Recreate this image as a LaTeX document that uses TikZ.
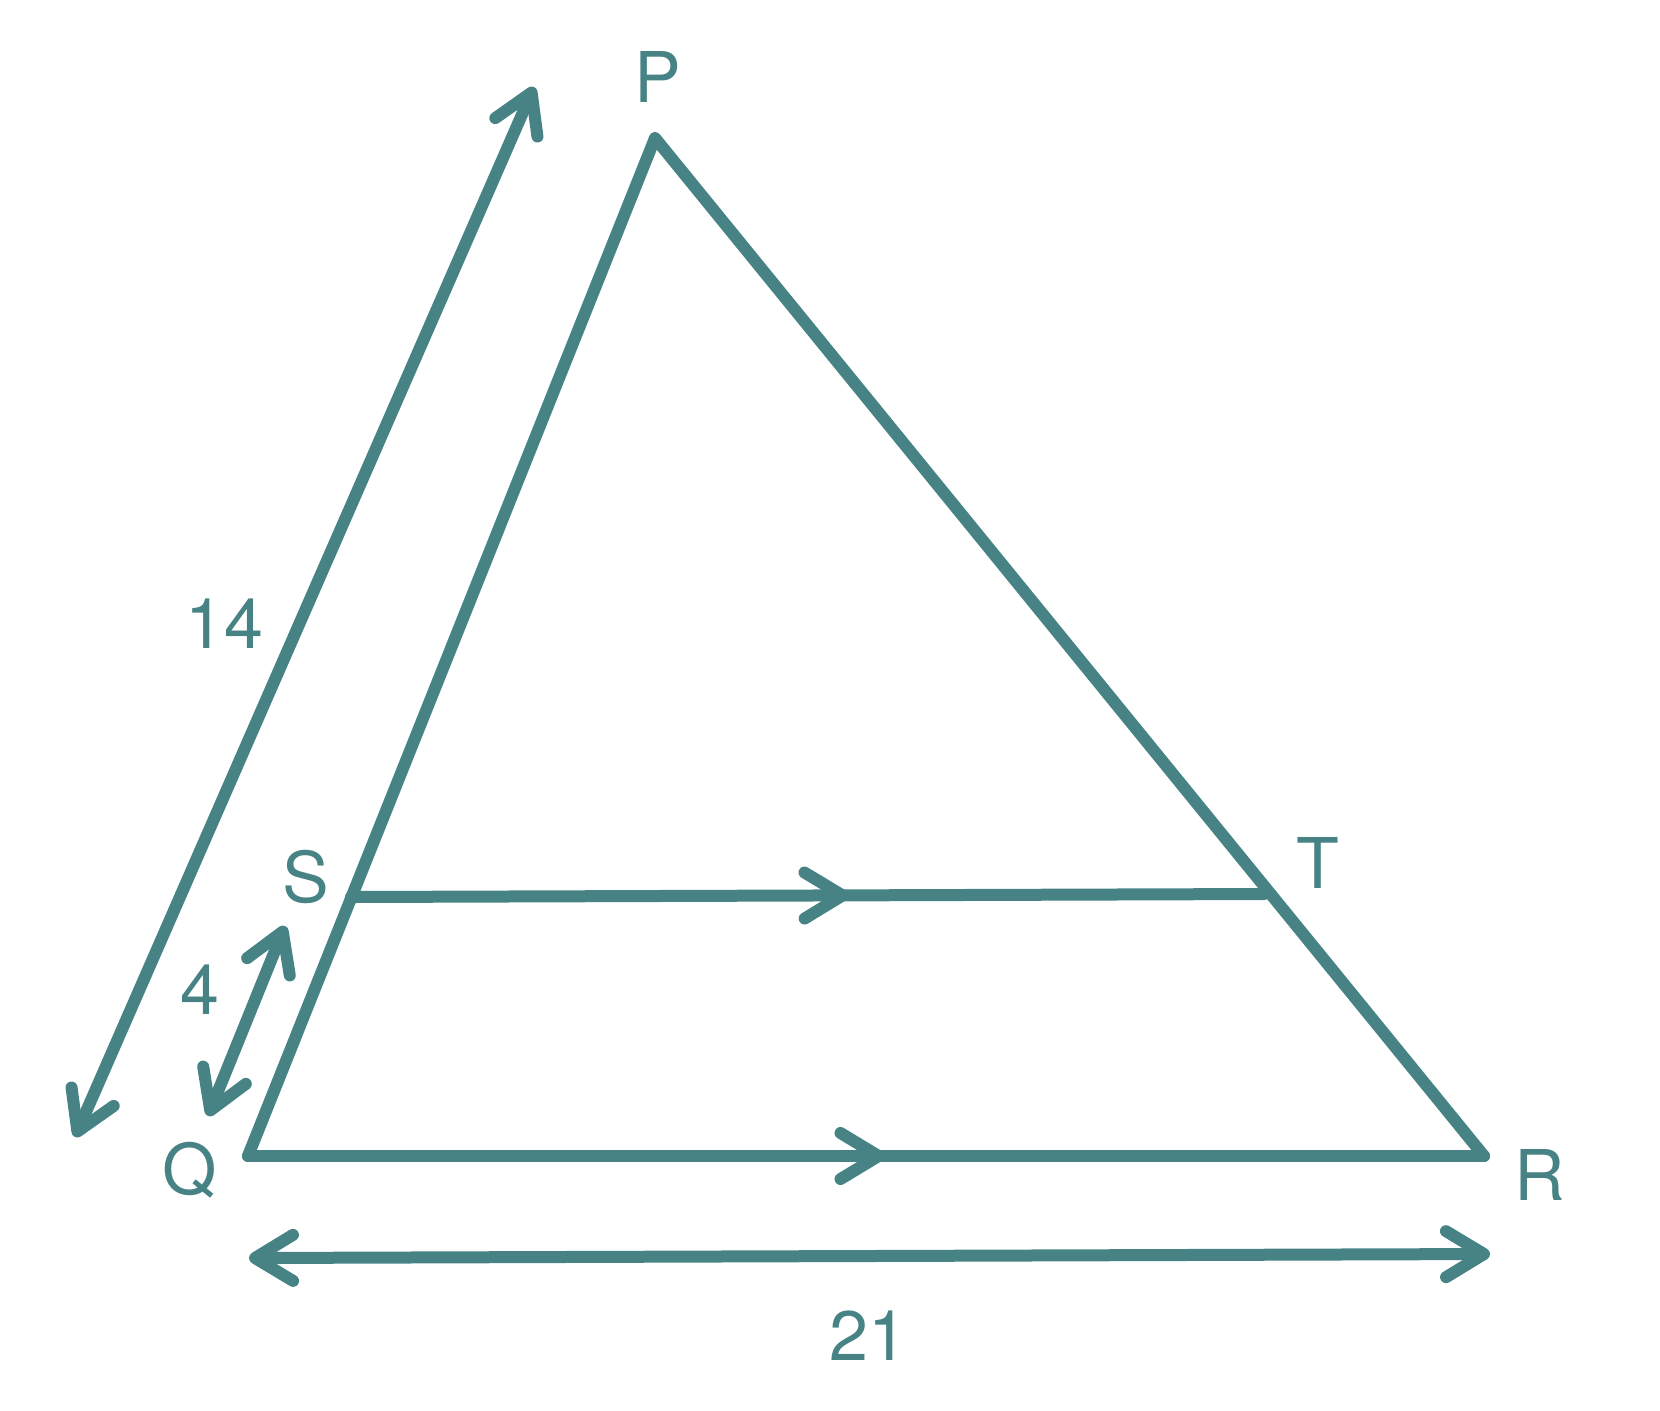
\documentclass[tikz,border=0pt]{standalone}
\usepackage{fontspec}
\setmainfont{TeX Gyre Heros}
\usetikzlibrary{arrows.meta,decorations.markings}
\definecolor{geoteal}{RGB}{71,131,133}

\tikzset{
  side/.style={draw=geoteal, line width=6pt, line cap=round, line join=round},
  barb/.tip={Straight Barb[length=19pt,width=23pt,line cap=round,line join=round]},
  parmark/.style={postaction={decorate},
    decoration={markings, mark=at position #1 with {\arrow{barb}}}},
  lbl/.style={text=geoteal, font=\fontsize{35}{38}\selectfont, inner sep=0pt},
}

\begin{document}
\begin{tikzpicture}[x=0.5pt,y=-0.5pt]
        \useasboundingbox (0,0) rectangle (1660,1410);

        % Ecken des Dreiecks
        \coordinate (P) at (655,138);
        \coordinate (Q) at (248,1156);
        \coordinate (R) at (1484,1156);
        \coordinate (S) at (351,897);
        \coordinate (T) at (1264,894);

        % Dreieck und Parallele
        \draw[side] (Q) -- (P) -- (R);
        \draw[side, parmark=0.515] (Q) -- (R);
        \draw[side, parmark=0.545] (S) -- (T);

        % Beschriftung der Ecken
        \node[lbl] (labP) at (658,77) {P};
        \node[lbl] (labQ) at (190,1170) {Q};
        \node[lbl] (labR) at (1540,1175) {R};
        \node[lbl] (labS) at (306,877) {S};
        \node[lbl] (labT) at (1318,863) {T};

        % Masspfeile
        \coordinate (a1) at (75,1137);
        \coordinate (a2) at (534,87);
        \coordinate (b1) at (208,1116);
        \coordinate (b2) at (285,926);
        \coordinate (c1) at (249,1258);
        \coordinate (c2) at (1490,1254);
        \draw[side, barb-barb] (a1) -- (a2);
        \draw[side, barb-barb] (b1) -- (b2);
        \draw[side, barb-barb] (c1) -- (c2);

        \node[lbl] (len14) at (224,624) {14};
        \node[lbl] (len4) at (200,990) {4};
        \node[lbl] (len21) at (868,1336) {21};
\end{tikzpicture}
\end{document}
